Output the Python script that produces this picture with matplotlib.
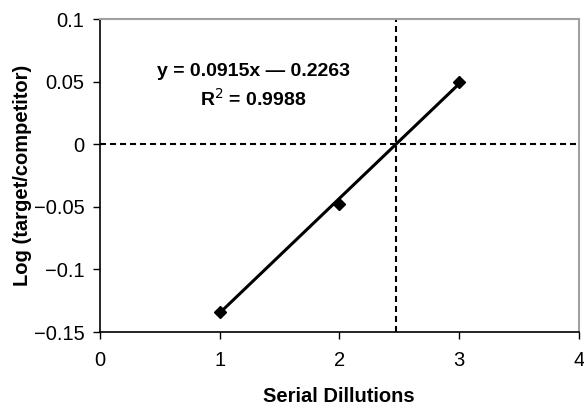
import matplotlib
matplotlib.use('Agg')
import matplotlib.pyplot as plt

plt.rcParams['font.family'] = ['Liberation Sans', 'DejaVu Sans']

dilutions = [1, 2, 3]
log_ratio = [-0.134, -0.048, 0.05]
slope = 0.0915
intercept = -0.2263
r2 = 0.9988

fig = plt.figure(figsize=(5.84, 4.05), dpi=100)
ax = fig.add_axes([0.171, 0.180, 0.820, 0.773])

fit_x = [dilutions[0], dilutions[-1]]
fit_y = [slope * v + intercept for v in fit_x]
ax.plot(fit_x, fit_y, color='black', lw=2.2, zorder=3)
ax.plot(dilutions, log_ratio, 'D', color='black', ms=6, zorder=4)

x0 = -intercept / slope
ax.axhline(0, color='black', ls=(0, (2.9, 1.9)), lw=1.5)
ax.axvline(x0, color='black', ls=(0, (2.9, 1.9)), lw=1.5)

ax.text(1.28, 0.058, 'y = 0.0915x \u2014 0.2263', ha='center', va='center',
        fontsize=14, fontweight='bold')
ax.text(1.28, 0.036, 'R$^2$ = 0.9988', ha='center', va='center',
        fontsize=14, fontweight='bold')

ax.set_xlim(0, 4)
ax.set_ylim(-0.15, 0.1)
ax.set_xticks([0, 1, 2, 3, 4])
ax.set_yticks([-0.15, -0.1, -0.05, 0, 0.05, 0.1])
ax.set_yticklabels(['\u22120.15', '\u22120.1', '\u22120.05', '0', '0.05', '0.1'])
ax.tick_params(labelsize=14.5, length=5, width=1)
ax.tick_params(axis='y', pad=6)
ax.tick_params(axis='x', pad=8.5)
ax.set_xlabel('Serial Dillutions', fontsize=14.5, fontweight='bold', labelpad=12)
ax.set_ylabel('Log (target/competitor)', fontsize=14.5, fontweight='bold', labelpad=1)

for s in ['top', 'right']:
    ax.spines[s].set_color('#a0a0a0')
    ax.spines[s].set_linewidth(1.5)
for s in ['left', 'bottom']:
    ax.spines[s].set_linewidth(1.2)

fig.savefig('out.png', dpi=100)
